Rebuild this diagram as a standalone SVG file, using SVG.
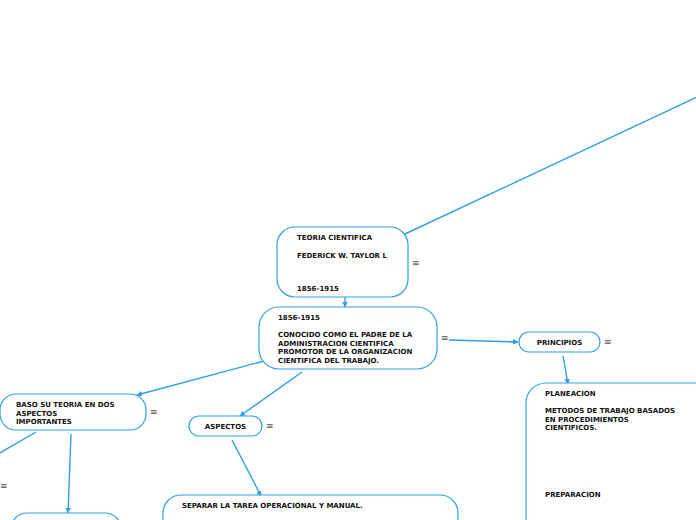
<svg xmlns="http://www.w3.org/2000/svg" width="696" height="520" viewBox="0 0 696 520">
<defs>
<style>
.n{fill:#fff;stroke:#2e9fe3;stroke-width:1.2}
.c{fill:none;stroke:#2e9fe3;stroke-width:1.4}
.t{font-family:"DejaVu Sans",Verdana,sans-serif;font-weight:bold;font-size:7px;fill:#111}
.m{font-family:"DejaVu Sans",sans-serif;font-size:9px;fill:#555}
</style>
<marker id="a" viewBox="0 0 10 10" refX="9" refY="5" markerWidth="4" markerHeight="4" orient="auto" markerUnits="strokeWidth">
<path d="M0,0 L10,5 L0,10 z" fill="#2e9fe3"/>
</marker>
</defs>
<rect width="696" height="520" fill="#fff"/>
<g id="connectors">
<line class="c" x1="697" y1="97" x2="405" y2="234"/>
<line class="c" x1="345" y1="297" x2="345" y2="307" marker-end="url(#a)"/>
<line class="c" x1="449" y1="340" x2="518" y2="342" marker-end="url(#a)"/>
<line class="c" x1="264" y1="361" x2="137" y2="395" marker-end="url(#a)"/>
<line class="c" x1="302" y1="372" x2="240" y2="416" marker-end="url(#a)"/>
<line class="c" x1="232" y1="440" x2="261" y2="496" marker-end="url(#a)"/>
<line class="c" x1="563" y1="356" x2="568" y2="384" marker-end="url(#a)"/>
<line class="c" x1="71" y1="434" x2="68" y2="513" marker-end="url(#a)"/>
<line class="c" x1="36" y1="432" x2="-2" y2="454"/>
</g>
<g id="teoria">
<rect class="n" x="277" y="227" width="131" height="70" rx="18"/>
<text class="t" x="297" y="240">TEORIA CIENTIFICA</text>
<text class="t" x="297" y="258">FEDERICK W. TAYLOR L</text>
<text class="t" x="297" y="291">1856-1915</text>
<text class="m" x="412" y="266">≡</text>
</g>
<g id="conocido">
<rect class="n" x="259" y="307" width="178" height="62" rx="20"/>
<text class="t" x="278" y="320">1856-1915</text>
<text class="t" x="278" y="337">CONOCIDO COMO EL PADRE DE LA</text>
<text class="t" x="278" y="345.5">ADMINISTRACION CIENTIFICA</text>
<text class="t" x="278" y="354">PROMOTOR DE LA ORGANIZACION</text>
<text class="t" x="278" y="362.5">CIENTIFICA DEL TRABAJO.</text>
<text class="m" x="441" y="341">≡</text>
</g>
<g id="principios">
<rect class="n" x="519" y="332" width="81" height="20" rx="10"/>
<text class="t" x="559.5" y="344.5" text-anchor="middle">PRINCIPIOS</text>
<text class="m" x="604" y="345">≡</text>
</g>
<g id="baso">
<rect class="n" x="0" y="394" width="146" height="36" rx="16"/>
<text class="t" x="16" y="407">BASO SU TEORIA EN DOS</text>
<text class="t" x="16" y="415.5">ASPECTOS</text>
<text class="t" x="16" y="424">IMPORTANTES</text>
<text class="m" x="150" y="415">≡</text>
</g>
<g id="aspectos">
<rect class="n" x="189" y="416" width="73" height="20" rx="10"/>
<text class="t" x="225.5" y="428.5" text-anchor="middle">ASPECTOS</text>
<text class="m" x="266" y="429">≡</text>
</g>
<g id="planeacion">
<rect class="n" x="526" y="383" width="190" height="160" rx="20"/>
<text class="t" x="545" y="396">PLANEACION</text>
<text class="t" x="545" y="413">METODOS DE TRABAJO BASADOS</text>
<text class="t" x="545" y="421.5">EN PROCEDIMIENTOS</text>
<text class="t" x="545" y="430">CIENTIFICOS.</text>
<text class="t" x="545" y="497">PREPARACION</text>
</g>
<g id="separar">
<rect class="n" x="163" y="495" width="295" height="60" rx="18"/>
<text class="t" x="182" y="508">SEPARAR LA TAREA OPERACIONAL Y MANUAL.</text>
</g>
<g id="nodo-izq">
<rect class="n" x="11" y="513" width="110" height="40" rx="16"/>
</g>
<g id="nodo-fuera">
<text class="m" x="0" y="489">≡</text>
</g>
</svg>
